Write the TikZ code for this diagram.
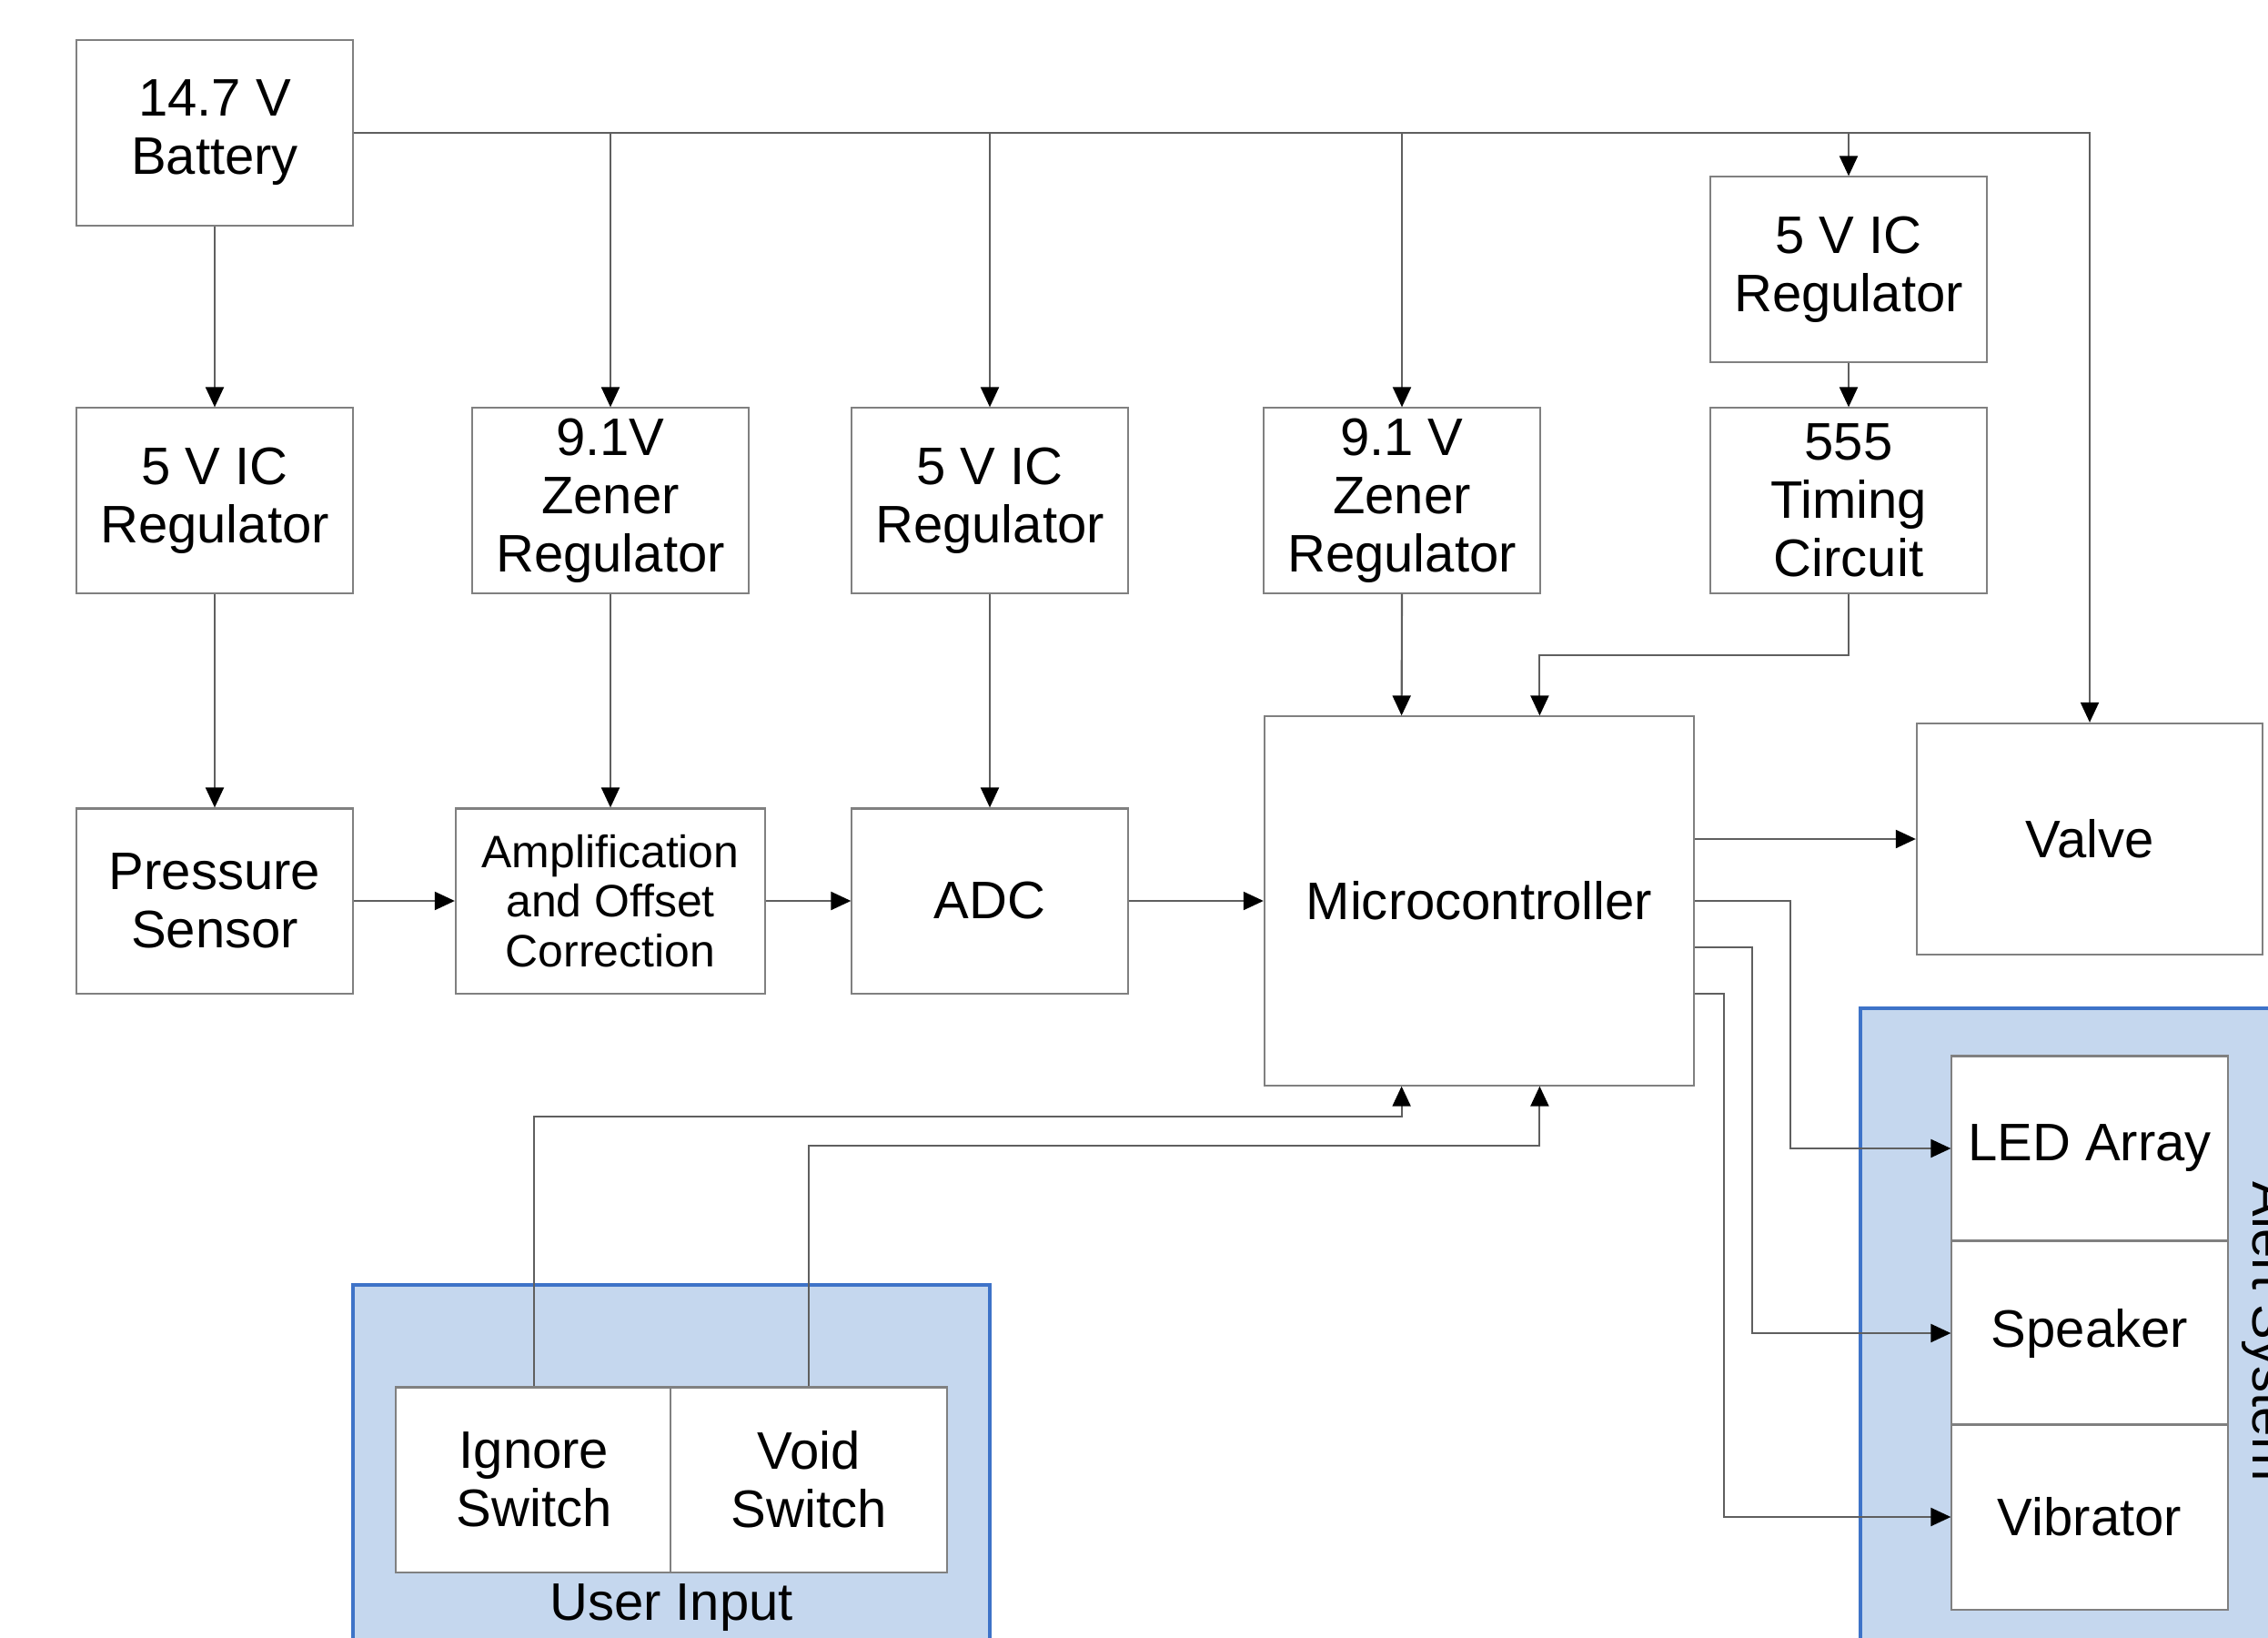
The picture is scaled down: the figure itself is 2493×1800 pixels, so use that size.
\documentclass[tikz,border=0pt]{standalone}
\usepackage{fontspec}
\setmainfont{Liberation Sans}
\usetikzlibrary{arrows.meta,calc}
\definecolor{boxline}{RGB}{128,128,128}
\definecolor{wirec}{RGB}{95,95,95}
\definecolor{grpfill}{RGB}{197,215,238}
\definecolor{grpline}{RGB}{62,115,200}
\begin{document}
\begin{tikzpicture}[x=0.01cm,y=-0.01cm,
  blk/.style={draw=boxline, line width=0.6pt, fill=white, rectangle, inner sep=0pt, align=center,
    font=\fontsize{16.5}{18.2}\selectfont, minimum width=3.03cm, minimum height=2.03cm},
  wire/.style={draw=wirec, line width=0.6pt},
  arr/.style={wire, -{Triangle[length=0.22cm,width=0.2cm,color=black]}},
  grp/.style={draw=grpline, line width=1.3pt, fill=grpfill},
  lbl/.style={font=\fontsize{16.5}{18.2}\selectfont, inner sep=0pt}]
\useasboundingbox (0,0) rectangle (2493,1800);
\fill[white] (0,0) rectangle (2493,1800);
\clip (0,0) rectangle (2493,1800);

% groups
\draw[grp] (388,1412) rectangle (1088,1900);
\draw[grp] (2045,1108) rectangle (2700,1900);
\node[lbl, anchor=base] (uilbl) at (738,1780) {User Input};
\node[lbl, rotate=-90, anchor=base] (aslbl) at (2476,1463) {Alert System};

% blocks
\node[blk] (bat) at (236,146) {14.7 V\\Battery};
\node[blk] (reg5c) at (2032,296) {5 V IC\\Regulator};
\node[blk] (reg5a) at (236,550) {5 V IC\\Regulator};
\node[blk] (zen1) at (671,550) {9.1V\\Zener\\Regulator};
\node[blk] (reg5b) at (1088,550) {5 V IC\\Regulator};
\node[blk] (zen2) at (1541,550) {9.1 V\\Zener\\Regulator};
\node[blk] (t555) at (2032,550) {555\\Timing\\Circuit};
\node[blk] (ps) at (236,990) {Pressure\\Sensor};
\node[blk, minimum width=3.4cm, font=\fontsize{14.2}{15.4}\selectfont] (amp) at (671,990) {Amplification\\and Offset\\Correction};
\node[blk] (adc) at (1088,990) {ADC};
\node[blk, minimum width=4.72cm, minimum height=4.05cm] (mc) at (1626,990) {Microcontroller};
\node[blk, minimum width=3.8cm, minimum height=2.54cm] (valve) at (2297,922) {Valve};
\node[blk] (led) at (2297,1262) {LED Array};
\node[blk] (spk) at (2297,1465) {Speaker};
\node[blk] (vib) at (2297,1667) {Vibrator};
\node[blk] (ign) at (587,1626) {Ignore\\Switch};
\node[blk] (void) at (889,1626) {Void\\Switch};

% coordinates on the microcontroller border
\coordinate (mcT1) at ($(mc.north west)!0.32!(mc.north east)$);
\coordinate (mcT2) at ($(mc.north west)!0.64!(mc.north east)$);
\coordinate (mcB1) at ($(mc.south west)!0.32!(mc.south east)$);
\coordinate (mcB2) at ($(mc.south west)!0.64!(mc.south east)$);

% supply bus
\draw[arr] (bat.east) -| (valve.north);
\draw[arr] (bat) -- (reg5a);
\draw[arr] (zen1.north |- bat.east) -- (zen1.north);
\draw[arr] (reg5b.north |- bat.east) -- (reg5b.north);
\draw[arr] (zen2.north |- bat.east) -- (zen2.north);
\draw[arr] (reg5c.north |- bat.east) -- (reg5c.north);
\draw[arr] (reg5c) -- (t555);

% regulators down
\draw[arr] (reg5a) -- (ps);
\draw[arr] (zen1) -- (amp);
\draw[arr] (reg5b) -- (adc);
\draw[arr] (zen2.south) -- (mcT1);
\draw[arr] (t555.south) -- ++(0,67) -| (mcT2);

% signal chain
\draw[arr] (ps) -- (amp);
\draw[arr] (amp) -- (adc);
\draw[arr] (adc) -- (mc);

% outputs
\draw[arr] (mc.east |- valve.west) -- (valve.west);
\draw[arr] (mc.east) -- ++(105,0) |- (led.west);
\draw[arr] ([yshift=-0.51cm]mc.east) -- ++(63,0) |- (spk.west);
\draw[arr] ([yshift=-1.02cm]mc.east) -- ++(32,0) |- (vib.west);

% user input
\draw[arr] (ign.north) -- ++(0,-296) -| (mcB1);
\draw[arr] (void.north) -- ++(0,-264) -| (mcB2);
\end{tikzpicture}
\end{document}
